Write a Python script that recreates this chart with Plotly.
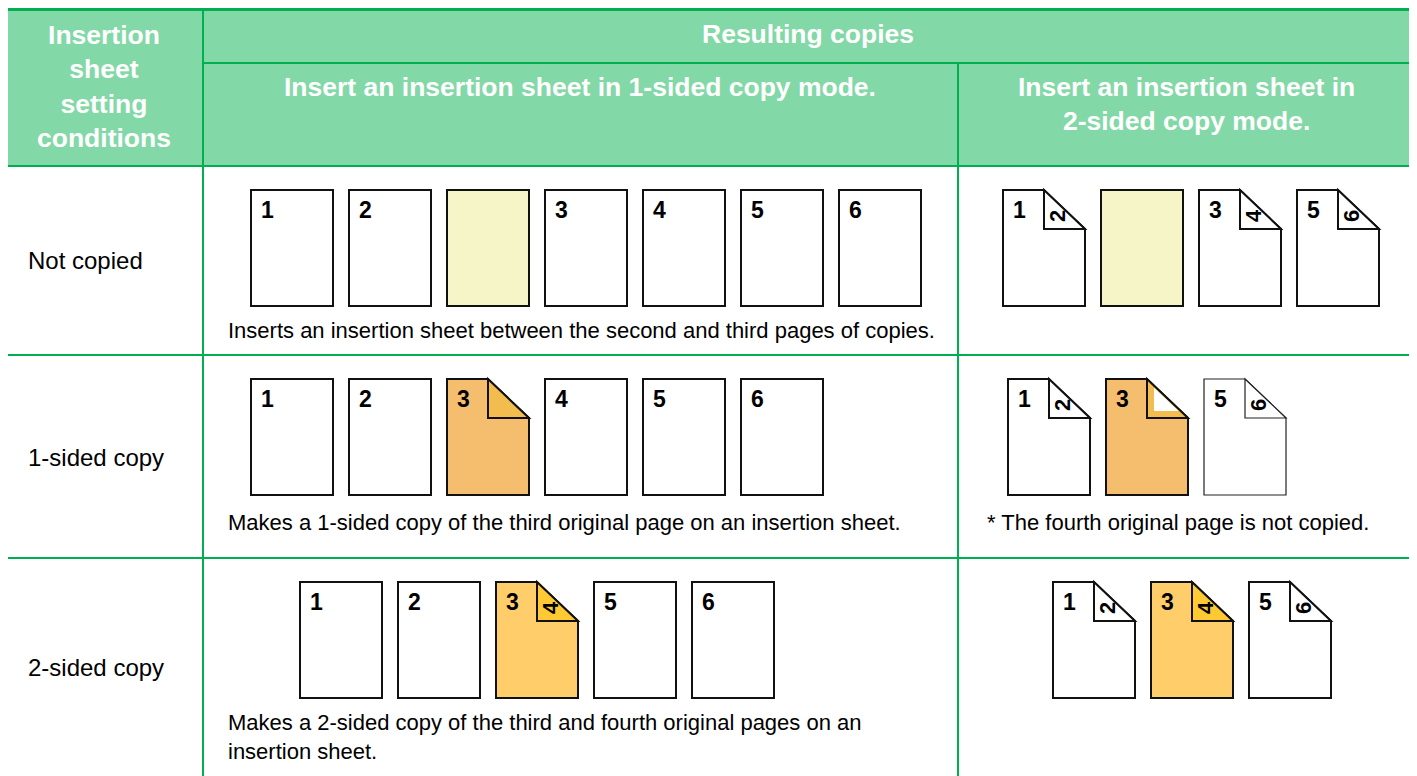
import plotly.graph_objects as go

# ---------------- data ----------------
conditions = ["Not copied", "1-sided copy", "2-sided copy"]
header_left = "Insertion<br>sheet<br>setting<br>conditions"
header_top = "Resulting copies"
header_mode1 = "Insert an insertion sheet in 1-sided copy mode."
header_mode2 = "Insert an insertion sheet in<br>2-sided copy mode."

mode1_fronts = [["1", "2", "", "3", "4", "5", "6"],
                ["1", "2", "3", "4", "5", "6"],
                ["1", "2", "3", "5", "6"]]
mode1_backs = [["", "", "", "", "", "", ""],
               ["", "", "", "", "", ""],
               ["", "", "4", "", ""]]
mode1_kinds = [["paper", "paper", "blank", "paper", "paper", "paper", "paper"],
               ["paper", "paper", "copy1", "paper", "paper", "paper"],
               ["paper", "paper", "copy2", "paper", "paper"]]
mode1_notes = ["Inserts an insertion sheet between the second and third pages of copies.",
               "Makes a 1-sided copy of the third original page on an insertion sheet.",
               "Makes a 2-sided copy of the third and fourth original pages on an<br>insertion sheet."]

mode2_fronts = [["1", "", "3", "5"], ["1", "3", "5"], ["1", "3", "5"]]
mode2_backs = [["2", "", "4", "6"], ["2", "", "6"], ["2", "4", "6"]]
mode2_kinds = [["duplex", "blank", "duplex", "duplex"],
               ["duplex", "copy1back", "duplexthin"],
               ["duplex", "copy2", "duplex"]]
mode2_notes = ["", "* The fourth original page is not copied.", ""]

# ---------------- styles / layout constants ----------------
GREEN = "#00B050"
HEAD_FILL = "#83D8A7"
FONT = "Arial, Liberation Sans, sans-serif"
STYLES = {
    "paper": dict(fill="white", fold=None, lw=2, lc="#111"),
    "blank": dict(fill="#F5F5C8", fold=None, lw=2, lc="#111"),
    "copy1": dict(fill="#F4BE6E", fold="#F2BC4E", lw=2, lc="#111"),
    "copy2": dict(fill="#FFCD6A", fold="#FFC933", lw=2, lc="#111"),
    "duplex": dict(fill="white", fold="white", lw=2, lc="#111"),
    "duplexthin": dict(fill="white", fold="white", lw=1.2, lc="#222"),
    "copy1back": dict(fill="#F4BE6E", fold="#F2BC4E", inner="white", lw=2, lc="#111"),
}
ROW_TOP = [190, 379, 582]
PAGE_W, PAGE_H, PITCH = 82, 116, 98
FOLD_W, FOLD_H = 41, 39
MODE1_X0 = [251, 251, 300]
MODE2_X0 = [1003, 1008, 1053]
ROW_MID = [260, 457, 667]
NOTE1_Y = [330, 522, 737]

W, H = 1417, 776
OFF = 8  # page body margin
fig = go.Figure()
shapes = []
annos = []


def txt(x, y, s, size, bold=False, color="black", xa="left", ya="middle", angle=0, align="left"):
    annos.append(dict(x=x, y=y, xref="x", yref="y", text=("<b>%s</b>" % s) if bold else s,
                      showarrow=False, xanchor=xa, yanchor=ya, textangle=angle, align=align,
                      font=dict(family=FONT, size=size, color=color)))


# header background
shapes.append(dict(type="rect", x0=5, y0=9.5, x1=1413, y1=166, fillcolor=HEAD_FILL,
                   line=dict(width=0), layer="below"))


def draw_page(x0, y0, front, back, kind):
    st = STYLES[kind]
    x1, y1 = x0 + PAGE_W, y0 + PAGE_H
    line = dict(color=st["lc"], width=st["lw"])
    if st["fold"] is None:
        shapes.append(dict(type="rect", x0=x0, y0=y0, x1=x1, y1=y1, fillcolor=st["fill"], line=line))
    else:
        xf, yf = x1 - FOLD_W, y0 + FOLD_H
        shapes.append(dict(type="path",
                           path=f"M{x0},{y0} L{xf},{y0} L{x1},{yf} L{x1},{y1} L{x0},{y1} Z",
                           fillcolor=st["fill"], line=line))
        shapes.append(dict(type="path", path=f"M{xf},{y0} L{xf},{yf} L{x1},{yf} Z",
                           fillcolor=st["fold"], line=line))
        if st.get("inner"):
            d = 7
            k = FOLD_H / FOLD_W
            shapes.append(dict(type="path",
                               path=f"M{xf+d},{y0+d*k+2} L{xf+d},{yf-d} L{x1-d/k-2},{yf-d} Z",
                               fillcolor=st["inner"], line=dict(width=0)))
        if back:
            txt(xf + 13, yf - 13, back, 22, bold=True, xa="center", angle=-90)
    if front:
        txt(x0 + 8, y0 + 20, front, 23, bold=True)


for r in range(3):
    for i, (f, b, k) in enumerate(zip(mode1_fronts[r], mode1_backs[r], mode1_kinds[r])):
        draw_page(MODE1_X0[r] + i * PITCH, ROW_TOP[r], f, b, k)
    for i, (f, b, k) in enumerate(zip(mode2_fronts[r], mode2_backs[r], mode2_kinds[r])):
        draw_page(MODE2_X0[r] + i * PITCH, ROW_TOP[r], f, b, k)
    txt(26, ROW_MID[r], conditions[r], 24)
    txt(226, NOTE1_Y[r], mode1_notes[r], 22)
    if mode2_notes[r]:
        txt(985, NOTE1_Y[r], mode2_notes[r], 22)

# header texts
txt(104, 86, header_left, 26.5, bold=True, color="white", xa="center", align="center")
txt(808, 34, header_top, 26.5, bold=True, color="white", xa="center", align="center")
txt(580, 87, header_mode1, 26.5, bold=True, color="white", xa="center", align="center")
txt(1186, 104, header_mode2, 26.5, bold=True, color="white", xa="center", align="center")

# grid lines
gl = dict(color=GREEN, width=2)
for (xa, ya, xb, yb) in [(203, 9.5, 203, 800), (958, 63, 958, 800), (203, 63, 1413, 63),
                         (5, 166, 1413, 166), (5, 355, 1413, 355), (5, 558, 1413, 558)]:
    shapes.append(dict(type="line", x0=xa, y0=ya, x1=xb, y1=yb, line=gl))
shapes.append(dict(type="rect", x0=5, y0=9.5, x1=1413, y1=800, line=dict(color=GREEN, width=3)))

fig.update_layout(
    width=W - OFF, height=H - OFF, margin=dict(l=0, r=0, t=0, b=0),
    paper_bgcolor="white", plot_bgcolor="white",
    xaxis=dict(range=[OFF, W], visible=False, fixedrange=True),
    yaxis=dict(range=[H, OFF], visible=False, fixedrange=True),
    shapes=shapes, annotations=annos, showlegend=False,
)
fig.write_html("out.html", config={"displayModeBar": False})
